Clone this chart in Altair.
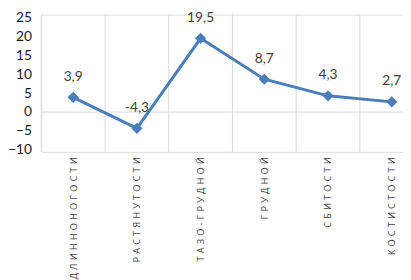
import altair as alt
import pandas as pd

categories = ["ДЛИННОНОГОСТИ", "РАСТЯНУТОСТИ", "ТАЗО-ГРУДНОЙ", "ГРУДНОЙ", "СБИТОСТИ", "КОСТИСТОСТИ"]
values = [3.9, -4.3, 19.5, 8.7, 4.3, 2.7]
value_labels = ["3,9", "-4,3", "19,5", "8,7", "4,3", "2,7"]
y_ticks = [-10, -5, 0, 5, 10, 15, 20, 25]

GAP = "\u2009\u2009"
spaced = [GAP.join(list(c)) for c in categories]
n = len(categories)

df = pd.DataFrame({"i": list(range(n)), "v": values, "lab": value_labels})
bounds = pd.DataFrame({"b": [k - 0.5 for k in range(n)]})
zero = pd.DataFrame({"z": [0]})

W, H = 369, 140
xscale = alt.Scale(domain=[-0.5, n - 0.5], range=[0, 65 * n], nice=False, zero=False)
yscale = alt.Scale(domain=[-10.52, 25.78], nice=False, zero=False)

label_expr = "[" + ",".join("'" + s + "'" for s in spaced) + "][datum.value]"

xaxis = alt.Axis(values=list(range(n)), labelExpr=label_expr, labelAngle=270,
                 grid=False, ticks=False, domain=False, title=None,
                 labelFont="Open Sans", labelFontSize=9.5, labelColor="#404040",
                 labelPadding=5, labelLimit=400, labelOverlap=False)
yaxis = alt.Axis(values=y_ticks, grid=False, ticks=False, domain=False, title=None,
                 labelFont="Lato", labelFontSize=14, labelColor="#1a1a1a",
                 labelPadding=10, labelOverlap=False)

grid = alt.Chart(bounds).mark_rule(color="#d9d9d9", strokeWidth=1).encode(
    x=alt.X("b:Q", scale=xscale, axis=xaxis),
    y=alt.value(0), y2=alt.value(H))

zline = alt.Chart(zero).mark_rule(color="#d9d9d9", strokeWidth=1).encode(
    y=alt.Y("z:Q", scale=yscale, axis=yaxis),
    x=alt.value(0), x2=alt.value(W))

line = alt.Chart(df).mark_line(color="#4a7ebb", strokeWidth=3).encode(
    x=alt.X("i:Q", scale=xscale, axis=xaxis),
    y=alt.Y("v:Q", scale=yscale, axis=yaxis))

pts = alt.Chart(df).mark_point(shape="diamond", filled=True, size=130, color="#4a7ebb", opacity=1).encode(
    x=alt.X("i:Q", scale=xscale, axis=xaxis),
    y=alt.Y("v:Q", scale=yscale, axis=yaxis))

txt = alt.Chart(df).mark_text(dy=-21, font="Lato", fontSize=14, color="#404040").encode(
    x=alt.X("i:Q", scale=xscale, axis=xaxis),
    y=alt.Y("v:Q", scale=yscale, axis=yaxis),
    text="lab:N")

chart = alt.layer(grid, zline, line, pts, txt).properties(
    width=W, height=H,
    autosize=alt.AutoSizeParams(type="none"),
    padding={"left": 34, "top": 4, "right": 0, "bottom": 128},
).configure_view(stroke=None).configure(background="white")

chart.save("out.html", embed_options={"renderer": "svg", "actions": False})
